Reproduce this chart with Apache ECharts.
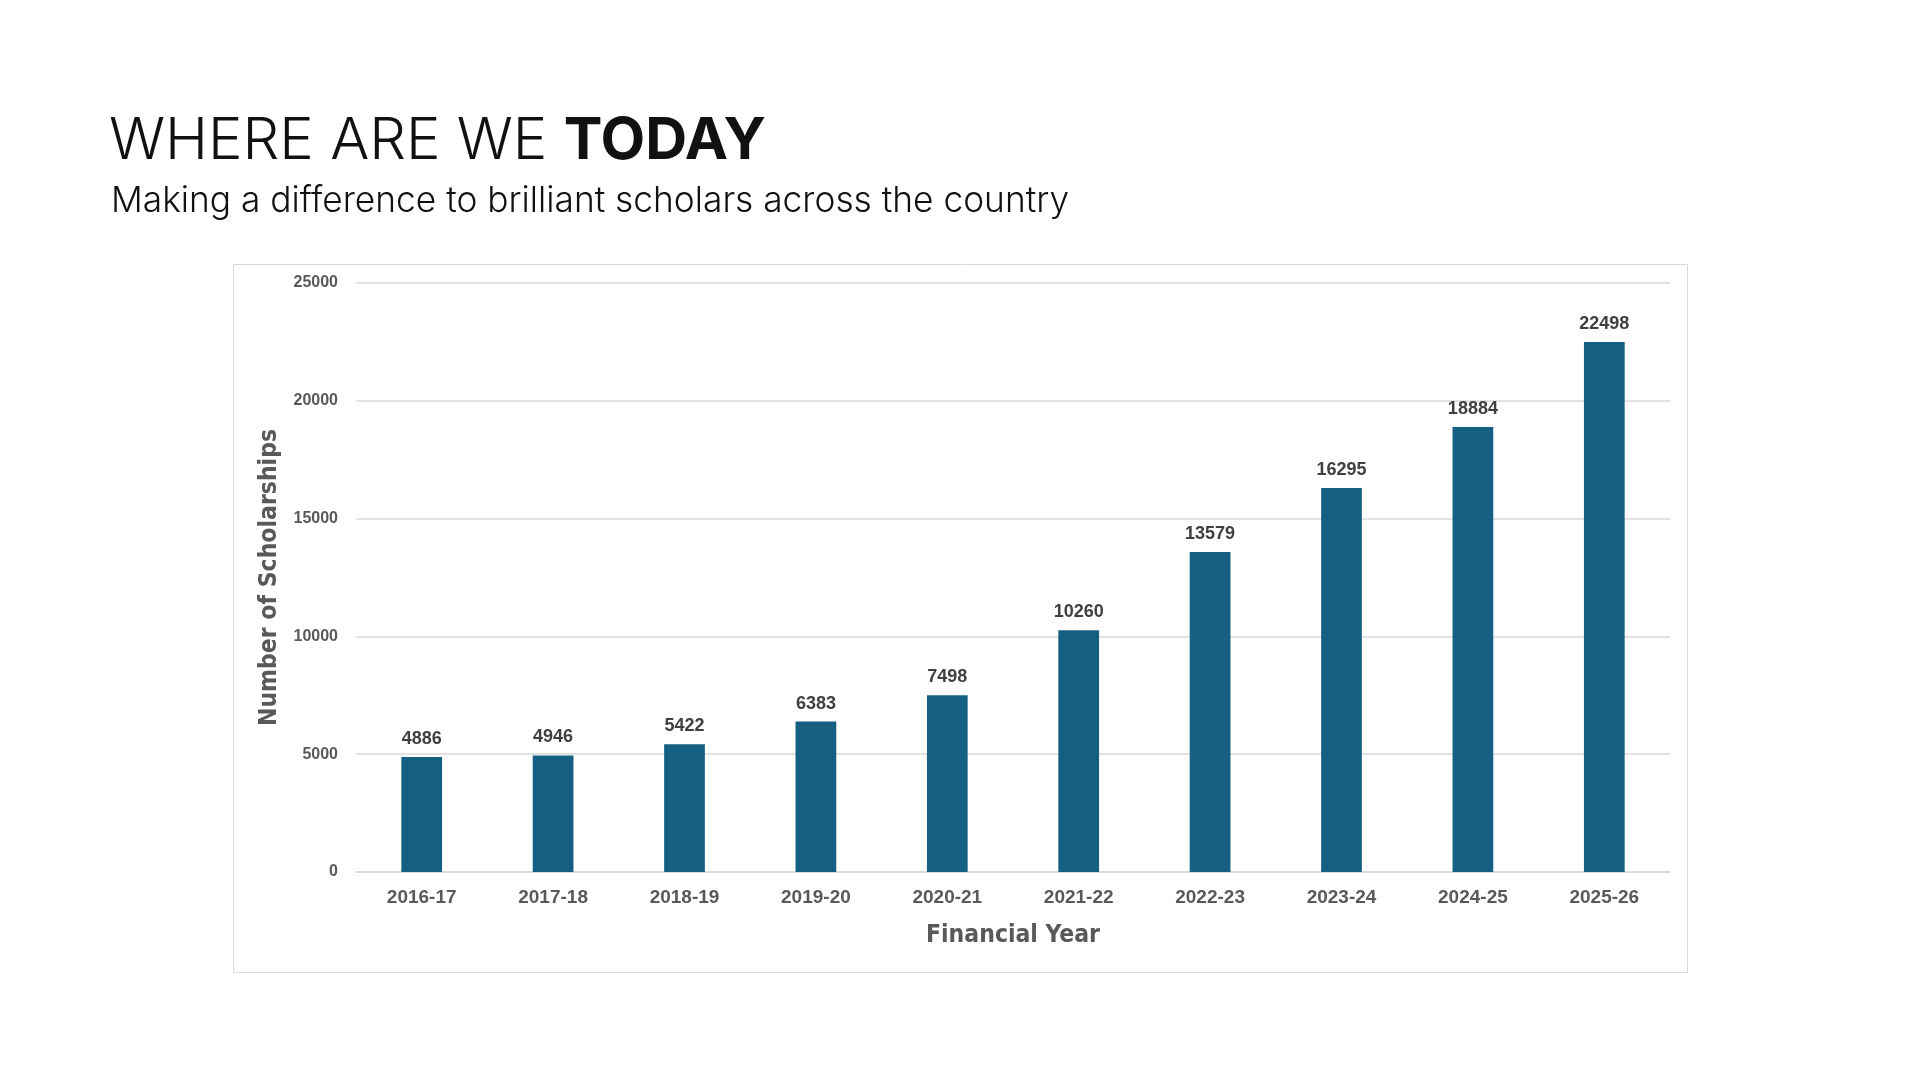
<!DOCTYPE html>
<html>
<head>
<meta charset="utf-8">
<title>Where are we today</title>
<script src="https://cdn.jsdelivr.net/npm/echarts@6/dist/echarts.min.js"></script>
<style>
  html, body { margin: 0; padding: 0; background: #ffffff; }
  #chart { width: 1920px; height: 1080px; }
</style>
</head>
<body>
<div id="chart"></div>
<script>
// dados
const anosFinanceiros = ['2016-17', '2017-18', '2018-19', '2019-20', '2020-21',
                         '2021-22', '2022-23', '2023-24', '2024-25', '2025-26'];
const numeroBolsas = [4886, 4946, 5422, 6383, 7498, 10260, 13579, 16295, 18884, 22498];
const escalaY = [0, 25000, 5000]; // min, max, intervalo

// fonte estreita para os títulos dos eixos
const fonteEstreita = "'Liberation Sans Narrow', 'Arial Narrow', 'DejaVu Sans Condensed', Roboto, sans-serif";

var chartDom = document.getElementById('chart');
var grafico = echarts.init(chartDom, null, { renderer: 'canvas' });

var option = {
    animation: false,
    backgroundColor: '#ffffff',
    title: [
        {
            text: '{l|WHERE ARE WE }{b|TODAY}',
            left: 104,
            top: 108,
            textStyle: {
                rich: {
                    l: { fontFamily: 'Inter', fontWeight: 300, fontSize: 58, color: '#111111' },
                    b: { fontFamily: 'Inter', fontWeight: 700, fontSize: 58, color: '#111111' }
                }
            }
        },
        {
            text: 'Making a difference to brilliant scholars across the country',
            left: 106,
            top: 179,
            textStyle: { fontFamily: 'Inter', fontWeight: 300, fontSize: 35.3, color: '#111111' }
        }
    ],
    // moldura do gráfico
    graphic: [{
        type: 'rect',
        shape: { x: 233.5, y: 264.5, width: 1454, height: 708 },
        style: { fill: 'none', stroke: '#d9d9d9', lineWidth: 1 },
        silent: true
    }],
    grid: {
        left: 356,
        right: 250,
        top: 283,
        bottom: 208
    },
    xAxis: {
        type: 'category',
        data: anosFinanceiros,
        name: 'Financial Year',
        nameLocation: 'middle',
        nameGap: 51,
        nameTextStyle: {
            fontFamily: fonteEstreita,
            fontWeight: 'bold',
            fontSize: 24.5,
            color: '#595959'
        },
        axisLine: { lineStyle: { color: '#d9d9d9', width: 1.5 } },
        axisTick: { show: false },
        axisLabel: {
            margin: 16,
            fontFamily: 'Liberation Sans',
            fontWeight: 'bold',
            fontSize: 19,
            color: '#595959'
        }
    },
    yAxis: {
        type: 'value',
        min: escalaY[0],
        max: escalaY[1],
        interval: escalaY[2],
        name: 'Number of Scholarships',
        nameLocation: 'middle',
        nameGap: 67,
        nameTextStyle: {
            fontFamily: fonteEstreita,
            fontWeight: 'bold',
            fontSize: 24.5,
            color: '#595959'
        },
        axisLine: { show: false },
        axisTick: { show: false },
        splitLine: { lineStyle: { color: '#d9d9d9', width: 1.5 } },
        axisLabel: {
            margin: 18,
            formatter: function (v) { return String(v); },
            fontFamily: 'Liberation Sans',
            fontWeight: 'bold',
            fontSize: 16,
            color: '#595959'
        }
    },
    series: [{
        type: 'bar',
        data: numeroBolsas,
        barWidth: '31%',
        itemStyle: { color: '#156082' },
        label: {
            show: true,
            position: 'top',
            distance: 9,
            fontFamily: 'Liberation Sans',
            fontWeight: 'bold',
            fontSize: 18,
            color: '#404040'
        }
    }]
};

grafico.setOption(option);

window.addEventListener('resize', function () {
    grafico.resize();
});
</script>
</body>
</html>
